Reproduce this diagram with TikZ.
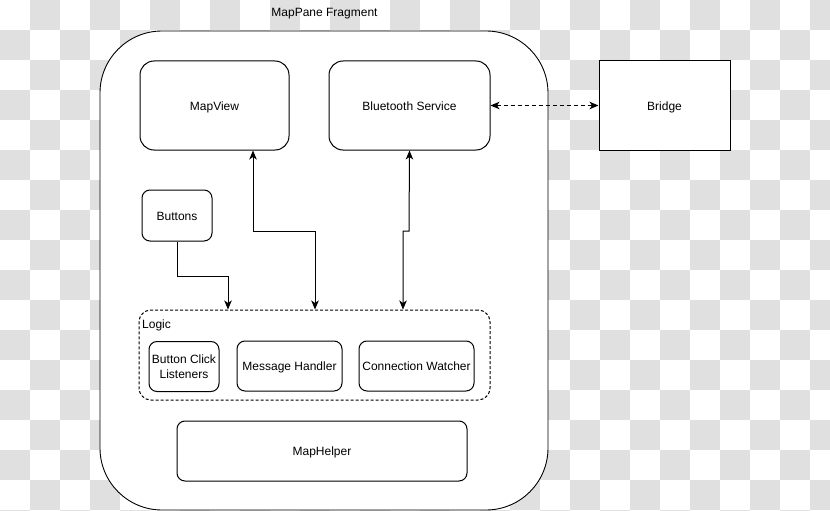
\documentclass[tikz,border=0pt]{standalone}
\usepackage{fontspec}
\setmainfont{Liberation Sans}
\usetikzlibrary{arrows.meta}
\definecolor{checker}{RGB}{224,224,224}
\tikzset{
  box/.style={draw=black, line width=1pt, fill=white, rounded corners=#1, inner sep=0pt, align=center},
  box/.default=14pt,
  oneline/.style={text height=9.6pt, text depth=0pt},
  plainbox/.style={draw=black, line width=1pt, fill=white, inner sep=0pt, align=center},
  tip/.style={Stealth[length=9pt,width=7.5pt,inset=2.5pt]},
  conn/.style={draw=black, line width=1pt, -{Stealth[length=9pt,width=7.5pt,inset=2.5pt]}},
  dconn/.style={draw=black, line width=1pt, {Stealth[length=9pt,width=7.5pt,inset=2.5pt]}-{Stealth[length=9pt,width=7.5pt,inset=2.5pt]}},
  lbl/.style={inner sep=0pt}
}
\begin{document}
\begin{tikzpicture}[x=1pt,y=-1pt,font=\fontsize{12}{14.5}\selectfont]
\useasboundingbox (0,0) rectangle (830,511);
% checkerboard background
\begin{scope}
\clip (0,0) rectangle (830,511);
\foreach \i in {0,...,27}{
  \foreach \j in {0,...,17}{
    \pgfmathtruncatemacro\cs{mod(\i+\j,2)}
    \ifnum\cs=1 \fill[checker] (\i*30,\j*30) rectangle ++(30,30);\fi
  }
}
\end{scope}
% outer fragment
\node[box=62pt, minimum width=448pt, minimum height=479pt, line width=0.9pt] (frag) at (324,270.5) {};
\node[lbl] (title) at (324.5,14) {MapPane Fragment};
% top boxes
\node[box, oneline, minimum width=149pt, minimum height=89pt] (mapview) at (214.5,105.5) {MapView};
\node[box, oneline, minimum width=161pt, minimum height=89pt] (bt) at (409.5,105.5) {Bluetooth Service};
\node[plainbox, oneline, minimum width=131pt, minimum height=89pt] (bridge) at (664.5,105.5) {Bridge};
\node[box=8pt, oneline, minimum width=70pt, minimum height=51pt] (buttons) at (177,215.5) {Buttons};
% logic group
\node[box=12pt, dashed, dash pattern=on 3pt off 2pt, minimum width=351pt, minimum height=90pt] (logic) at (314.5,355) {};
\node[lbl, anchor=west] (logiclbl) at (142,325) {Logic};
\node[box=8pt, minimum width=70pt, minimum height=50pt] (bcl) at (184,366.5) {Button Click\\Listeners};
\node[box=8pt, oneline, minimum width=105pt, minimum height=50pt] (mh) at (289.5,366) {Message Handler};
\node[box=8pt, oneline, minimum width=115pt, minimum height=50pt] (cw) at (416.5,366) {Connection Watcher};
% helper
\node[box=8pt, oneline, minimum width=290pt, minimum height=60pt] (helper) at (322,451) {MapHelper};
% waypoints
\coordinate (w1) at (228,276);
\coordinate (w2) at (253,231);
\coordinate (w3) at (315,231);
\coordinate (w4) at (409,231);
\coordinate (w5) at (403,231);
% connectors
\draw[conn] (buttons.south) |- (w1) -- (logic.north -| w1);
\draw[dconn] (mapview.south -| w2) -- (w2) -- (w3) -- (logic.north -| w3);
\draw[dconn] (bt.south) -- (w4) -- (w5) -- (logic.north -| w5);
\draw[dconn, dash pattern=on 4pt off 3pt] (bt.east) -- (bridge.west);
\end{tikzpicture}
\end{document}
